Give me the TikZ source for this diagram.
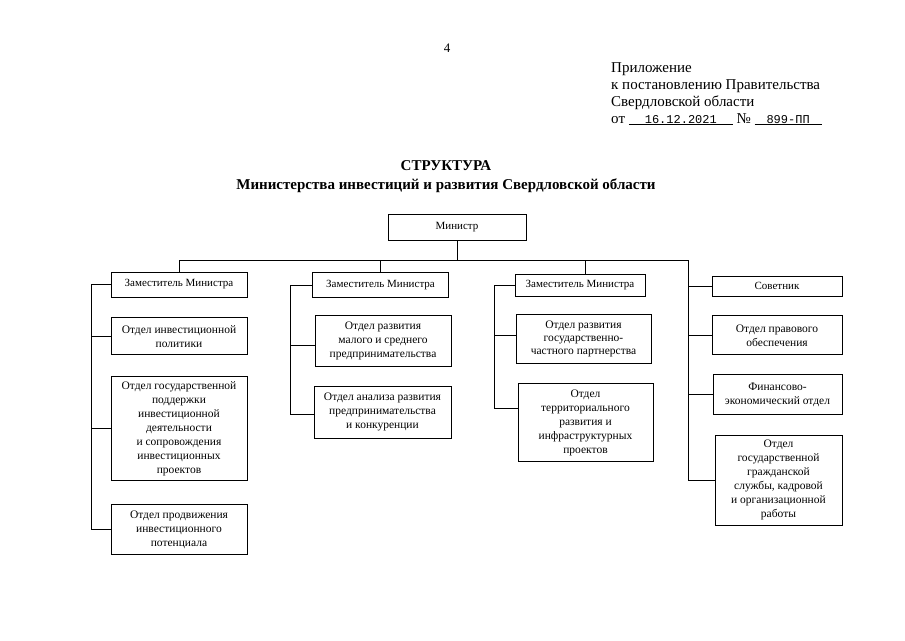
\documentclass[tikz,border=0pt]{standalone}
\usepackage{fontspec}
\setmainfont{Liberation Serif}
\newfontfamily\datefont{Liberation Mono}
\usetikzlibrary{positioning}

\begin{document}
\begin{tikzpicture}[
  x=1pt, y=-1pt,
  node distance=20pt,
  unit/.style={draw, line width=0.8pt, align=center, font=\fontsize{11.5}{14}\selectfont, inner sep=1pt},
  head/.style={unit, font=\fontsize{11}{13}\selectfont},
  link/.style={line width=0.7pt}
]
\useasboundingbox[fill=white] (0,0) rectangle (905,640);

\node (pagenum) at (447,48) {\fontsize{13}{15}\selectfont 4};
\node[anchor=north west, align=left, font=\fontsize{15}{17}\selectfont, inner sep=0pt] (annex) at (611,62) {Приложение\\к постановлению Правительства\\Свердловской области\\от \underline{\makebox[104pt]{\datefont\fontsize{12}{14}\selectfont 16.12.2021}} № \underline{\makebox[67pt]{\datefont\fontsize{12}{14}\selectfont 899-ПП}}};
\node[align=center, font=\bfseries\fontsize{15}{19}\selectfont] (title) at (446,177) {СТРУКТУРА\\Министерства инвестиций и развития Свердловской области};

\node[head, minimum width=138pt, minimum height=26pt] (minister) at (457,227) {Министр};

\node[head, minimum width=136pt, minimum height=25pt] (dep1) at (179,284.5) {Заместитель Министра};
\node[unit, minimum width=136pt, minimum height=37pt, below=20pt of dep1] (invpol) {Отдел инвестиционной\\политики};
\node[unit, minimum width=136pt, minimum height=104pt, below=21pt of invpol] (invsupport) {Отдел государственной\\поддержки\\инвестиционной\\деятельности\\и сопровождения\\инвестиционных\\проектов};
\node[unit, minimum width=136pt, minimum height=50pt, below=23pt of invsupport] (invpromo) {Отдел продвижения\\инвестиционного\\потенциала};

\node[head, minimum width=136pt, minimum height=25pt] (dep2) at (380.5,285) {Заместитель Министра};
\node[unit, minimum width=136pt, minimum height=51pt, below=17pt of dep2, xshift=2.5pt] (smb) {Отдел развития\\малого и среднего\\предпринимательства};
\node[unit, minimum width=137pt, minimum height=52pt, below=19pt of smb, xshift=-0.5pt] (analysis) {Отдел анализа развития\\предпринимательства\\и конкуренции};

\node[head, minimum width=130pt, minimum height=22pt] (dep3) at (580,285) {Заместитель Министра};
\node[unit, minimum width=135pt, minimum height=49pt, below=18pt of dep3, xshift=3.5pt, font=\fontsize{11.5}{13}\selectfont] (ppp) {Отдел развития\\государственно-\\частного партнерства};
\node[unit, minimum width=135pt, minimum height=78pt, below=19pt of ppp, xshift=2pt] (territory) {Отдел\\территориального\\развития и\\инфраструктурных\\проектов};

\node[head, minimum width=130pt, minimum height=20pt] (adviser) at (777,286) {Советник};
\node[unit, minimum width=130pt, minimum height=39pt, below=19pt of adviser] (legal) {Отдел правового\\обеспечения};
\node[unit, minimum width=129pt, minimum height=40pt, below=19pt of legal, xshift=0.5pt] (finance) {Финансово-\\экономический отдел};
\node[unit, minimum width=127pt, minimum height=90pt, below=20pt of finance, xshift=1pt] (personnel) {Отдел\\государственной\\гражданской\\службы, кадровой\\и организационной\\работы};

\coordinate (busR) at (688,260);
\draw[link] (minister) -- (minister |- busR);
\draw[link] (dep1.north) |- (busR);
\draw[link] (dep2.north) -- (dep2.north |- busR);
\draw[link] ([xshift=5pt]dep3.north) -- ([xshift=5pt]dep3.north |- busR);
\draw[link] (busR) |- (personnel.west);
\draw[link] (adviser.west) -- (adviser.west -| busR);
\draw[link] (legal.west) -- (legal.west -| busR);
\draw[link] (finance.west) -- (finance.west -| busR);

\draw[link] (dep1.west) -- ++(-19,0) coordinate (spineA) |- (invpromo.west);
\draw[link] (invpol.west) -- (invpol.west -| spineA);
\draw[link] (invsupport.west) -- (invsupport.west -| spineA);

\draw[link] (dep2.west) -- ++(-22,0) coordinate (spineB) |- ([yshift=-2pt]analysis.west);
\draw[link] ([yshift=-5pt]smb.west) -- ([yshift=-5pt]smb.west -| spineB);

\draw[link] (dep3.west) -- ++(-20,0) coordinate (spineC) |- ([yshift=14pt]territory.west);
\draw[link] ([yshift=4pt]ppp.west) -- ([yshift=4pt]ppp.west -| spineC);
\end{tikzpicture}
\end{document}
